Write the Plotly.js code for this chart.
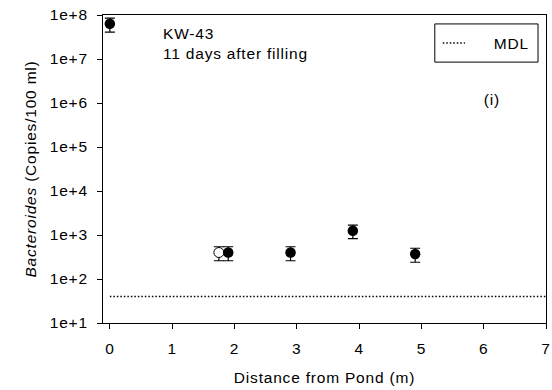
<!DOCTYPE html>
<html>
<head>
<meta charset="utf-8">
<script src="https://cdn.plot.ly/plotly-3.0.1.min.js"></script>
<style>
html,body{margin:0;padding:0;background:#fff;}
#chart{width:552px;height:390px;}
#chart svg text{letter-spacing:0.8px;}
</style>
</head>
<body>
<div id="chart"></div>
<script>
// Filled markers
const filledX = [0, 1.9, 2.9, 3.9, 4.9];
const filledY = [63000000, 400, 400, 1250, 370];
const filledErr = [22000000, 140, 140, 420, 130];
// Open marker
const openX = [1.75];
const openY = [400];
const openErr = [140];
// Method detection limit
const mdlX = [0, 7];
const mdlY = [40, 40];
// Tick labels
const yTickVals = [10, 100, 1000, 10000, 100000, 1000000, 10000000, 100000000];
const yTickText = ["1e+1", "1e+2", "1e+3", "1e+4", "1e+5", "1e+6", "1e+7", "1e+8"];
const xTickVals = [0, 1, 2, 3, 4, 5, 6, 7];
const legendLabel = "MDL";

const font = {family: "Liberation Sans, Arial, sans-serif", size: 15.5, color: "#000"};
const dotted = {color: "#000", width: 1.5, dash: "1.5px,2px"};

const traces = [
  {
    x: mdlX, y: mdlY, mode: "lines", name: legendLabel,
    line: dotted, showlegend: false, hoverinfo: "skip"
  },
  {
    x: openX, y: openY, mode: "markers", showlegend: false,
    marker: {symbol: "circle", size: 10, color: "#fff", line: {color: "#000", width: 1}},
    error_y: {type: "data", array: openErr, visible: true, color: "#000", thickness: 1.2, width: 5}
  },
  {
    x: filledX, y: filledY, mode: "markers", showlegend: false,
    marker: {symbol: "circle", size: 10.5, color: "#000"},
    error_y: {type: "data", array: filledErr, visible: true, color: "#000", thickness: 1.2, width: 5}
  }
];

const layout = {
  width: 552, height: 390,
  margin: {l: 103, r: 6, t: 15, b: 67},
  paper_bgcolor: "#fff", plot_bgcolor: "#fff",
  font: font,
  showlegend: false,
  xaxis: {
    range: [-0.11, 7], tickvals: xTickVals,
    ticks: "outside", ticklen: 5, tickcolor: "#000",
    showline: true, linecolor: "#000", linewidth: 1, mirror: true,
    showgrid: false, zeroline: false,
    tickfont: font, ticklabelstandoff: 6,
    title: {text: "Distance from Pond (m)", font: font, standoff: 16}
  },
  yaxis: {
    type: "log", range: [1, 8],
    tickvals: yTickVals, ticktext: yTickText,
    ticks: "outside", ticklen: 5, tickcolor: "#000",
    showline: true, linecolor: "#000", linewidth: 1, mirror: true,
    showgrid: false, zeroline: false,
    tickfont: font, ticklabelstandoff: 6,
    title: {text: "<i>Bacteroides</i> (Copies/100 ml)", font: font, standoff: 12}
  },
  shapes: [
    {type: "rect", xref: "paper", yref: "paper", x0: 0.749, x1: 0.982, y0: 0.847, y1: 0.971,
     line: {color: "#000", width: 1}, fillcolor: "#fff", layer: "above"},
    {type: "line", xref: "paper", yref: "paper", x0: 0.767, x1: 0.817, y0: 0.909, y1: 0.909,
     line: dotted, layer: "above"}
  ],
  annotations: [
    {xref: "paper", yref: "paper", x: 0.13, y: 0.975, xanchor: "left", yanchor: "top",
     align: "left", showarrow: false, font: font,
     text: "KW-43<br>11 days after filling"},
    {xref: "paper", yref: "paper", x: 0.877, y: 0.727, xanchor: "center", yanchor: "middle",
     showarrow: false, font: font, text: "(i)"},
    {xref: "paper", yref: "paper", x: 0.881, y: 0.909, xanchor: "left", yanchor: "middle",
     showarrow: false, font: font, text: legendLabel}
  ]
};

Plotly.newPlot("chart", traces, layout, {displayModeBar: false, staticPlot: true});
</script>
</body>
</html>
